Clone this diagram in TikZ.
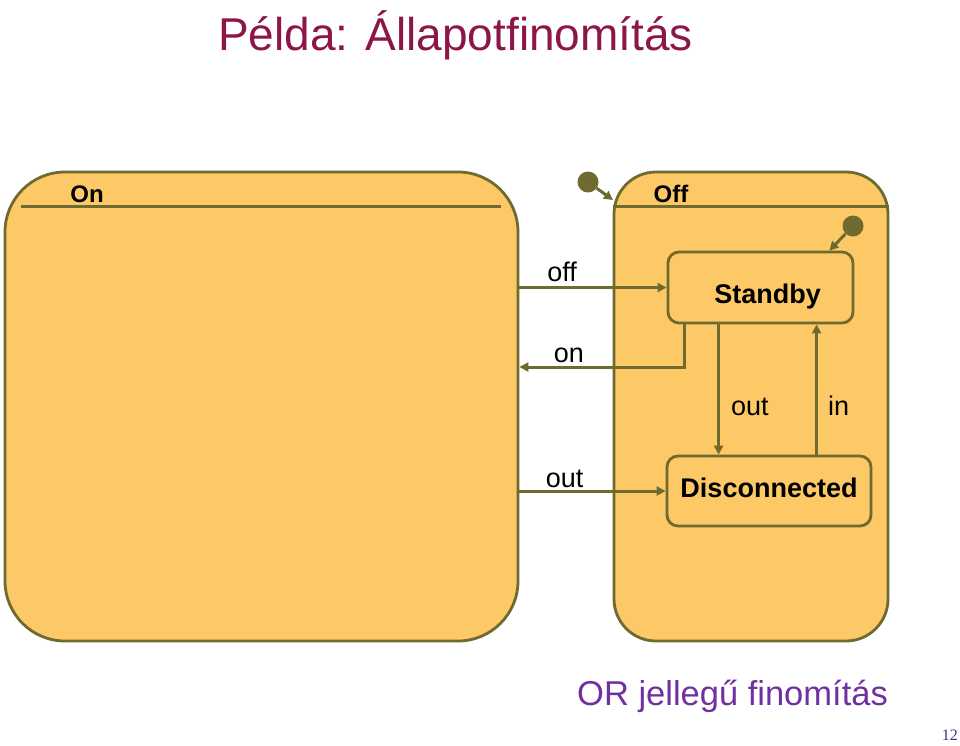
\documentclass[tikz,border=0pt]{standalone}
\usepackage{fontspec}
\setmainfont{Liberation Sans}
\newfontfamily\pagenumfont{Liberation Serif}
\usetikzlibrary{positioning,arrows.meta}

\definecolor{statefill}{RGB}{252,201,102}
\definecolor{stateline}{RGB}{110,106,48}
\definecolor{titlecol}{RGB}{140,22,72}
\definecolor{notecol}{RGB}{112,48,160}
\definecolor{numcol}{RGB}{46,58,135}

\begin{document}
\begin{tikzpicture}[
  x=1pt, y=-1pt,
  state/.style={draw=stateline, fill=statefill, line width=2.8pt, inner sep=0pt},
  substate/.style={state, rounded corners=11pt, font=\fontsize{27}{27}\selectfont\bfseries},
  statename/.style={font=\fontsize{24}{24}\selectfont\bfseries, inner sep=0pt, anchor=base},
  trans/.style={draw=stateline, line width=3pt, -{Triangle[length=9pt,width=9pt]}},
  lbl/.style={font=\fontsize{27}{27}\selectfont, inner sep=0pt},
  initdot/.style={circle, fill=stateline, minimum size=21pt, inner sep=0pt}
]
\useasboundingbox (0,0) rectangle (960,745);

% title
\node[anchor=base west, inner sep=0pt, text=titlecol, font=\fontsize{46}{46}\selectfont]
  (title) at (218,50) {Példa: Állapotfinomítás};

% superstates
\node[state, rounded corners=60pt, minimum width=513pt, minimum height=469pt]
  (on) at (261.5,406.5) {};
\node[state, rounded corners=42pt, minimum width=274pt, minimum height=469pt]
  (off) at (751,406.5) {};
\node[statename] (onname) at (87,202) {On};
\node[statename] (offname) at (671,202) {Off};
\draw[stateline, line width=2.8pt] ([xshift=17pt,yshift=-36pt]on.north west) -- ([xshift=-18pt,yshift=-36pt]on.north east);
\draw[stateline, line width=2.8pt] ([yshift=-36pt]off.north west) -- ([yshift=-36pt]off.north east);

% substates
\node[substate, minimum width=185pt, minimum height=71pt, text height=31pt, text depth=0pt]
  (standby) at (760.5,287.5) {\hspace*{14pt}Standby};
\node[substate, minimum width=204pt, minimum height=70pt, text height=12pt, text depth=0pt]
  (disc) at (769,491) {Disconnected};

% initial states
\node[initdot] (init1) at (588,182) {};
\coordinate (offentry) at (613,200);
\draw[trans] (init1) -- (offentry);
\node[initdot] (init2) at (853,226) {};
\draw[trans] (init2) -- ([xshift=-25pt]standby.north east);

% transitions
\coordinate (onrow) at (600,367);
\draw[trans] (on.east |- standby.west) -- (standby.west)
  node[lbl, pos=.29, anchor=base, yshift=6pt] {off};
\draw[trans] ([xshift=18pt]standby.south west) |- (on.east |- onrow)
  node[lbl, pos=.85, anchor=base, yshift=5pt] {on};
\draw[trans] ([xshift=52pt]standby.south west) -- ([xshift=52pt]standby.south west |- disc.north)
  node[lbl, pos=.70, anchor=base west, xshift=11pt] {out};
\draw[trans] ([xshift=150pt]standby.south west |- disc.north) -- ([xshift=150pt]standby.south west)
  node[lbl, pos=.30, anchor=base west, xshift=10pt] {in};
\draw[trans] (on.east |- disc.west) -- (disc.west)
  node[lbl, pos=.31, anchor=base, yshift=4pt] {out};

% footer
\node[anchor=base west, inner sep=0pt, text=notecol, font=\fontsize{34.5}{34.5}\selectfont]
  (note) at (577,705) {OR jellegű finomítás};
\node[anchor=base east, inner sep=0pt, text=numcol, font=\pagenumfont\fontsize{16}{16}\selectfont]
  (pagenum) at (958,740) {12};
\end{tikzpicture}
\end{document}
